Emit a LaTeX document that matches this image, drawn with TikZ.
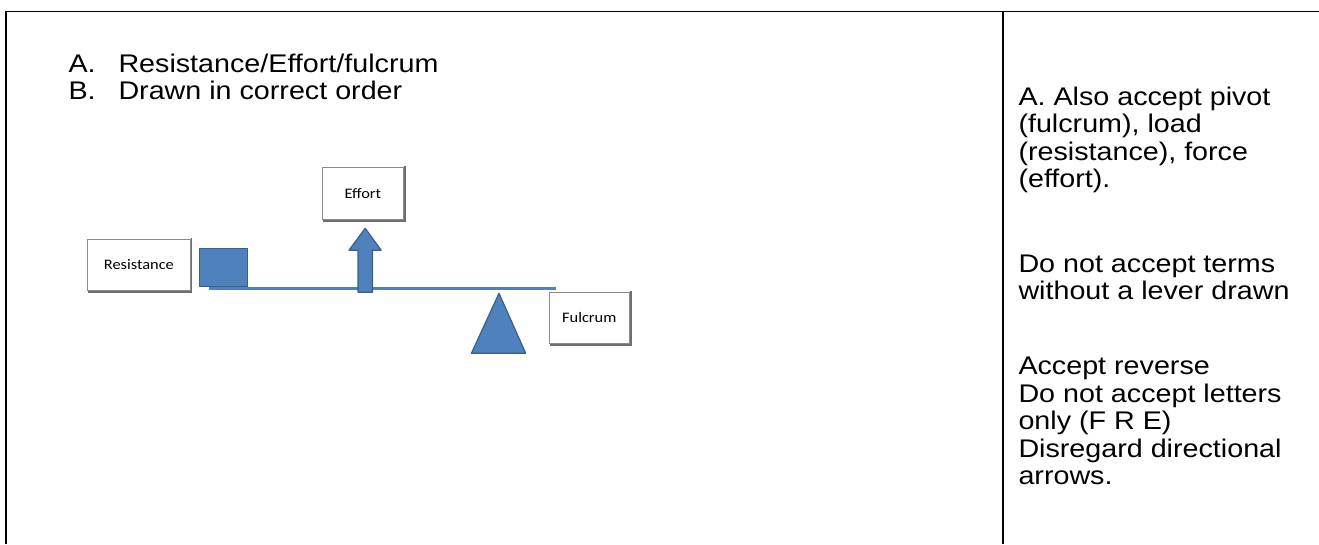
\documentclass[tikz,border=0pt]{standalone}
\usepackage{fontspec}
\setmainfont{Liberation Sans}[FakeStretch=1.125]
\newfontfamily\boxfont{Carlito}[FakeStretch=1.13]
\definecolor{leverblue}{HTML}{4F81BD}
\definecolor{edgeblue}{HTML}{3A5F8B}
\definecolor{boxedge}{HTML}{8C8C8C}
\definecolor{boxshade}{HTML}{6E6E6E}
\begin{document}
\begin{tikzpicture}[x=1pt,y=-1pt,
  rule/.style={line width=1.7pt,black},
  body/.style={anchor=base west,inner sep=0pt,font=\fontsize{25.5}{27.5}\selectfont},
  tag/.style={draw=boxedge,line width=0.8pt,fill=white,inner sep=0pt,
              font=\boxfont\fontsize{14.5}{16}\selectfont},
  part/.style={fill=leverblue,draw=edgeblue,line width=1.2pt,line join=round}]
\useasboundingbox (0,0) rectangle (1319,544);

% table rules
\draw[rule] (6.3,544) -- (6.3,11.5) -- (1319,11.5);
\draw[rule] (1003,11.5) -- (1003,544);

% left column
\node[body] (la) at (68.3,72) {A.};
\node[body] (lat) at (118.3,72) {Resistance/Effort/fulcrum};
\node[body] (lb) at (68.3,99.5) {B.};
\node[body] (lbt) at (118.3,99.5) {Drawn in correct order};

% right column
\node[body] (r1) at (1018.3,105) {A. Also accept pivot};
\node[body] (r2) at (1018.3,132.5) {(fulcrum), load};
\node[body] (r3) at (1018.3,160) {(resistance), force};
\node[body] (r4) at (1018.3,187.5) {(effort).};
\node[body] (r5) at (1018.3,272) {Do not accept terms};
\node[body] (r6) at (1018.3,299.5) {without a lever drawn};
\node[body] (r7) at (1018.3,374.5) {Accept reverse};
\node[body] (r8) at (1018.3,402) {Do not accept letters};
\node[body] (r9) at (1018.3,429.5) {only (F R E)};
\node[body] (r10) at (1018.3,457) {Disregard directional};
\node[body] (r11) at (1018.3,484.5) {arrows.};

% labelled boxes
\node[tag,minimum width=102.5pt,minimum height=51.4pt] (resist) at (138.9,265) {Resistance};
\node[tag,minimum width=80.8pt,minimum height=52pt] (effort) at (362.9,193.3) {Effort};
\node[tag,minimum width=80.4pt,minimum height=51pt] (fulcrum) at (589.3,317.8) {Fulcrum};
\foreach \b in {resist,effort,fulcrum}{
  \draw[boxshade,line width=1.6pt] ([xshift=1pt,yshift=-1pt]\b.south west) -- ([xshift=1pt,yshift=-1pt]\b.south east) -- ([xshift=1pt,yshift=1pt]\b.north east);
}

% the lever
\draw[leverblue,line width=3.3pt] (209.3,288.6) -- (555.6,288.6);
\draw[part] (199.7,248.3) rectangle (247.5,286.7);
\draw[part] (358,292.3) -- (358,250.2) -- (349,250.2) -- (365.2,228.3)
  -- (381.2,250.2) -- (372.4,250.2) -- (372.4,292.3) -- cycle;
\draw[part] (499,293.3) -- (525.7,353.3) -- (471.4,353.3) -- cycle;
\end{tikzpicture}
\end{document}
